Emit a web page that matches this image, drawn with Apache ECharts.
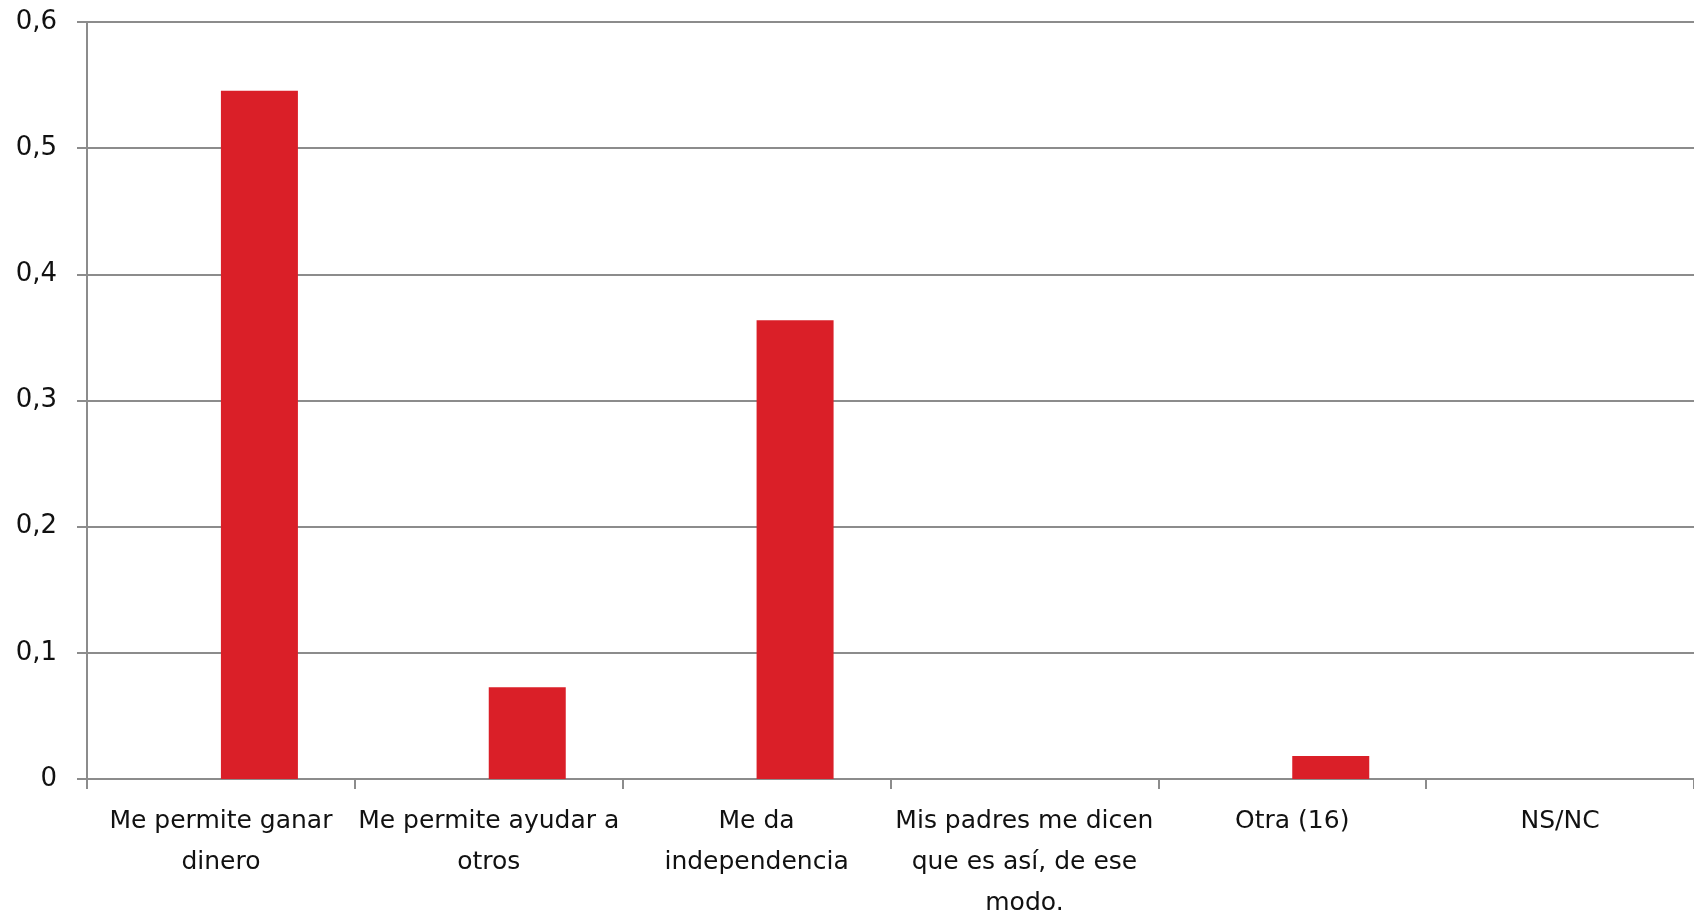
<!DOCTYPE html>
<html>
<head>
<meta charset="utf-8">
<script src="https://cdn.jsdelivr.net/npm/echarts@6/dist/echarts.min.js"></script>
<style>
  html, body { margin: 0; padding: 0; background: #fff; }
  #main { width: 1694px; height: 916px; }
</style>
</head>
<body>
<div id="main"></div>
<script>
// categorias (eje X)
var categorias = [
  'Me permite ganar\ndinero',
  'Me permite ayudar a\notros',
  'Me da\nindependencia',
  'Mis padres me dicen\nque es así, de ese\nmodo.',
  'Otra (16)',
  'NS/NC'
];
// valores de la serie
var valores = [0.5455, 0.0727, 0.3636, 0, 0.0182, 0];
// serie vacia (hueco a la izquierda de cada barra, como en el original)
var vacia = [null, null, null, null, null, null];

var myChart = echarts.init(document.getElementById('main'));

var fuente = '"DejaVu Sans", sans-serif';
var gris = '#8c8c8c';

var option = {
  animation: false,
  textStyle: { fontFamily: fuente },
  grid: { left: 87, right: 0, top: 22, bottom: 137, containLabel: false, outerBoundsMode: 'none' },
  xAxis: {
    type: 'category',
    data: categorias,
    axisLine: { lineStyle: { color: gris, width: 2 } },
    axisTick: { show: true, length: 10, lineStyle: { color: gris, width: 2 } },
    axisLabel: {
      interval: 0,
      margin: 22,
      color: '#111',
      fontSize: 25,
      lineHeight: 41,
      fontFamily: fuente
    }
  },
  yAxis: {
    type: 'value',
    min: 0,
    max: 0.6,
    interval: 0.1,
    axisLine: { show: true, lineStyle: { color: gris, width: 2 } },
    axisTick: { show: true, length: 10, lineStyle: { color: gris, width: 2 } },
    splitLine: { lineStyle: { color: gris, width: 2 } },
    axisLabel: {
      margin: 30,
      color: '#111',
      fontSize: 26,
      fontFamily: fuente,
      formatter: function (v) {
        return v === 0 ? '0' : v.toFixed(1).replace('.', ',');
      }
    }
  },
  series: [
    {
      name: 'vacia',
      type: 'bar',
      data: vacia,
      barWidth: 77,
      barGap: '0%'
    },
    {
      name: 'Porcentaje',
      type: 'bar',
      data: valores,
      barWidth: 77,
      barGap: '0%',
      itemStyle: { color: '#da1f28' }
    }
  ]
};

myChart.setOption(option);
</script>
</body>
</html>
